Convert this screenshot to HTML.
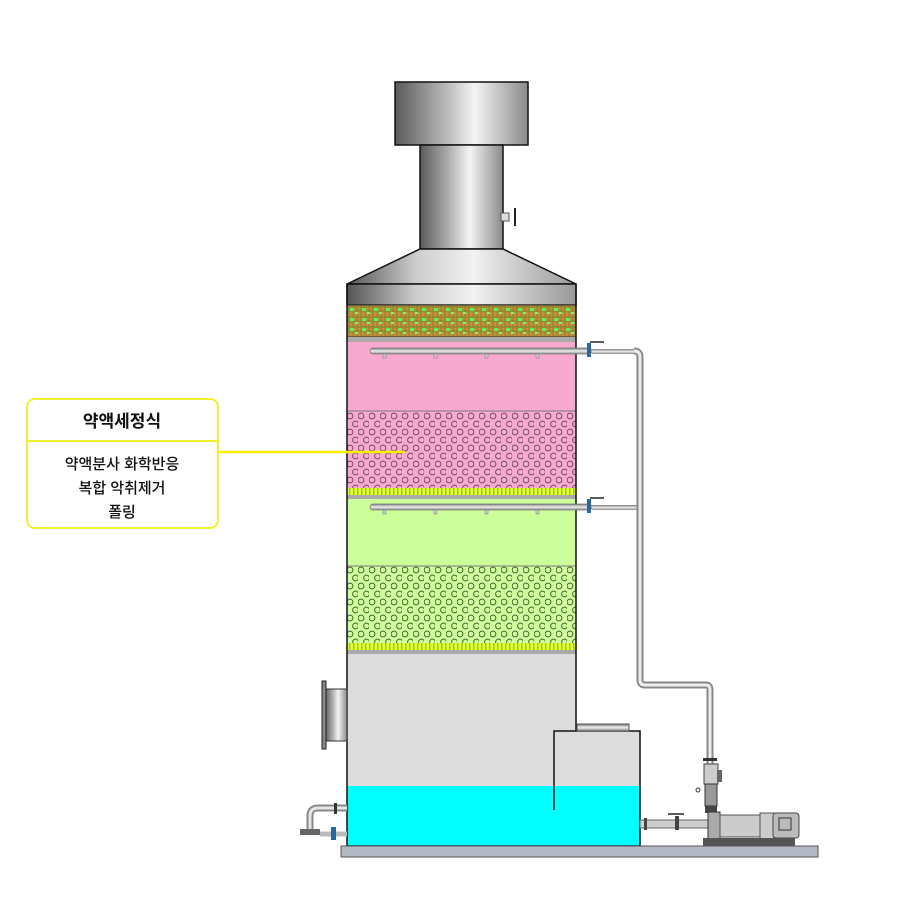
<!DOCTYPE html>
<html><head><meta charset="utf-8"><style>
html,body{margin:0;padding:0;background:#fff;}
svg{display:block}
text{font-family:"Liberation Sans","Noto Sans CJK KR","NanumGothic",sans-serif;}
</style></head><body>
<svg width="900" height="900" viewBox="0 0 900 900" xmlns="http://www.w3.org/2000/svg">
<defs>
<linearGradient id="met" x1="0" x2="1" y1="0" y2="0">
<stop offset="0" stop-color="#5a5a5a"/><stop offset="0.35" stop-color="#b0b0b0"/><stop offset="0.6" stop-color="#f4f4f4"/><stop offset="1" stop-color="#8a8a8a"/></linearGradient>
<linearGradient id="metv" x1="0" x2="0" y1="0" y2="1">
<stop offset="0" stop-color="#777"/><stop offset="0.5" stop-color="#eee"/><stop offset="1" stop-color="#888"/></linearGradient>
<linearGradient id="band" x1="0" x2="1"><stop offset="0" stop-color="#555"/><stop offset="0.3" stop-color="#ccc"/><stop offset="0.55" stop-color="#f2f2f2"/><stop offset="1" stop-color="#999"/></linearGradient>
<pattern id="circP" width="11" height="16" patternUnits="userSpaceOnUse" x="347" y="412">
<rect width="11" height="16" fill="#f8a9d0"/>
<circle cx="3" cy="4" r="2.9" fill="none" stroke="#6a4a5a" stroke-width="1"/>
<circle cx="8.5" cy="12" r="2.9" fill="none" stroke="#6a4a5a" stroke-width="1"/>
</pattern>
<pattern id="circG" width="11" height="16" patternUnits="userSpaceOnUse" x="347" y="566">
<rect width="11" height="16" fill="#ccff99"/>
<circle cx="3" cy="4" r="2.9" fill="none" stroke="#4a5a3a" stroke-width="1"/>
<circle cx="8.5" cy="12" r="2.9" fill="none" stroke="#4a5a3a" stroke-width="1"/>
</pattern>
<pattern id="mesh" width="12" height="10" patternUnits="userSpaceOnUse" x="347" y="305">
<rect width="12" height="10" fill="#c98a3a"/>
<path d="M0 2H12M0 6H12M2 0V10M6 0V10M10 0V10" stroke="#7a8a2a" stroke-width="1"/>
<rect x="3" y="3" width="4" height="3" fill="#5ef05e"/>
<rect x="8" y="7" width="3" height="2" fill="#7ef07e"/>
</pattern>
<pattern id="strip" width="4" height="7" patternUnits="userSpaceOnUse">
<rect width="4" height="7" fill="#e8ff30"/><rect x="1" width="1.5" height="7" fill="#9acc20"/>
</pattern>
</defs>

<rect x="395" y="82" width="133" height="63" fill="url(#met)" stroke="#111" stroke-width="1.5"/>
<rect x="420" y="145" width="83" height="104" fill="url(#met)" stroke="#111" stroke-width="1.5"/>
<rect x="501" y="213" width="8" height="8" fill="#ddd" stroke="#555"/>
<line x1="515" y1="208" x2="515" y2="226" stroke="#222" stroke-width="2"/>
<polygon points="420,249 503,249 576,284 347,284" fill="url(#band)" stroke="#111" stroke-width="1.5"/>
<rect x="347" y="284" width="229" height="21" fill="url(#band)" stroke="#111" stroke-width="1.5"/>
<rect x="347" y="305" width="229" height="32" fill="url(#mesh)" stroke="#333"/>
<rect x="347" y="337" width="229" height="5" fill="#aaa"/>
<rect x="347" y="342" width="229" height="69" fill="#f8a9d0"/>
<rect x="347" y="411" width="229" height="77" fill="url(#circP)"/>
<line x1="347" y1="411" x2="576" y2="411" stroke="#777"/>
<rect x="347" y="488" width="229" height="7" fill="url(#strip)"/>
<rect x="347" y="495" width="229" height="4" fill="#aaa"/>
<rect x="347" y="499" width="229" height="67" fill="#ccff99"/>
<rect x="347" y="566" width="229" height="77" fill="url(#circG)"/>
<line x1="347" y1="566" x2="576" y2="566" stroke="#777"/>
<rect x="347" y="643" width="229" height="7" fill="url(#strip)"/>
<rect x="347" y="650" width="229" height="4" fill="#aaa"/>
<rect x="347" y="654" width="229" height="132" fill="#dcdcdc"/>
<rect x="576" y="731" width="64" height="55" fill="#dcdcdc"/>
<rect x="347" y="786" width="293" height="60" fill="#00ffff"/>
<line x1="576" y1="284" x2="576" y2="731" stroke="#111" stroke-width="1.5"/>
<line x1="347" y1="284" x2="347" y2="846" stroke="#111" stroke-width="1.5"/>
<polyline points="554,810 554,731 640,731 640,846 347,846" fill="none" stroke="#111" stroke-width="1.5"/>
<rect x="577" y="724" width="52" height="7" fill="url(#metv)" stroke="#555"/>
<rect x="341" y="846" width="477" height="11" fill="#b4b8c4" stroke="#555"/>
<rect x="325" y="689" width="22" height="52" fill="url(#met)" stroke="#333"/>
<rect x="322" y="681" width="4" height="68" fill="#888" stroke="#222"/>
<path d="M347 808 H318 Q310 808 310 816 V833" fill="none" stroke="#888" stroke-width="7"/>
<path d="M347 808 H318 Q310 808 310 816 V833" fill="none" stroke="#e6e6e6" stroke-width="3"/>
<rect x="300" y="829" width="20" height="6" fill="#666"/>
<line x1="320" y1="834" x2="347" y2="834" stroke="#bbb" stroke-width="5"/>
<rect x="331" y="827" width="5" height="13" fill="#2a6a9a"/>
<rect x="334" y="803" width="3" height="11" fill="#333"/>
<g>
<rect x="370" y="348" width="222" height="6" rx="3" fill="url(#metv)" stroke="#777" stroke-width="0.8"/>
<rect x="592" y="349" width="44" height="5" fill="url(#metv)"/>
<rect x="587" y="343" width="4" height="14" fill="#2a6a9a"/>
<line x1="590" y1="342" x2="604" y2="342" stroke="#222" stroke-width="1.5"/>
<rect x="383" y="354" width="3" height="4" fill="#ccc" stroke="#777" stroke-width="0.5"/>
<rect x="434" y="354" width="3" height="4" fill="#ccc" stroke="#777" stroke-width="0.5"/>
<rect x="485" y="354" width="3" height="4" fill="#ccc" stroke="#777" stroke-width="0.5"/>
<rect x="536" y="354" width="3" height="4" fill="#ccc" stroke="#777" stroke-width="0.5"/>
</g>
<g>
<rect x="370" y="504" width="222" height="6" rx="3" fill="url(#metv)" stroke="#777" stroke-width="0.8"/>
<rect x="592" y="505" width="46" height="5" fill="url(#metv)"/>
<rect x="587" y="499" width="4" height="14" fill="#2a6a9a"/>
<line x1="590" y1="498" x2="604" y2="498" stroke="#222" stroke-width="1.5"/>
<rect x="383" y="510" width="3" height="4" fill="#ccc" stroke="#777" stroke-width="0.5"/>
<rect x="434" y="510" width="3" height="4" fill="#ccc" stroke="#777" stroke-width="0.5"/>
<rect x="485" y="510" width="3" height="4" fill="#ccc" stroke="#777" stroke-width="0.5"/>
<rect x="536" y="510" width="3" height="4" fill="#ccc" stroke="#777" stroke-width="0.5"/>
</g>
<path d="M634 351 Q640 351 640 357 V680 Q640 685 645 685 H706 Q710 685 710 690 V765" fill="none" stroke="#888" stroke-width="7"/>
<path d="M634 351 Q640 351 640 357 V680 Q640 685 645 685 H706 Q710 685 710 690 V765" fill="none" stroke="#eee" stroke-width="3"/>
<rect x="703" y="758" width="14" height="3" fill="#333"/>
<rect x="704" y="764" width="14" height="20" fill="#ccc" stroke="#444"/>
<rect x="717" y="770" width="5" height="12" fill="#666"/>
<rect x="705" y="784" width="12" height="22" fill="#999" stroke="#333"/>
<circle cx="698" cy="790" r="2" fill="none" stroke="#333"/>
<rect x="705" y="806" width="12" height="7" fill="#444"/>
<rect x="640" y="820" width="70" height="8" fill="#ccc" stroke="#666"/>
<rect x="644" y="818" width="3" height="12" fill="#444"/>
<rect x="675" y="816" width="4" height="14" fill="#444"/>
<line x1="668" y1="814" x2="684" y2="814" stroke="#222" stroke-width="1.5"/>
<rect x="708" y="812" width="12" height="30" fill="#aaa" stroke="#333"/>
<rect x="720" y="815" width="40" height="22" fill="#ccc" stroke="#555"/>
<rect x="760" y="813" width="14" height="26" fill="#ccc" stroke="#555"/>
<rect x="773" y="813" width="26" height="25" rx="3" fill="#bbb" stroke="#444"/>
<rect x="779" y="818" width="12" height="12" fill="none" stroke="#333"/>
<rect x="703" y="838" width="92" height="8" fill="#555"/>
<line x1="218" y1="452" x2="405" y2="452" stroke="#ffee00" stroke-width="2.5"/>
<rect x="27" y="399" width="191" height="129" rx="8" fill="#fff" stroke="#f2ee30" stroke-width="2"/>
<line x1="27" y1="441" x2="218" y2="441" stroke="#f2ee30" stroke-width="2"/>
<text x="122" y="427" text-anchor="middle" font-size="17" font-weight="bold" fill="#111">약액세정식</text>
<text x="122" y="469" text-anchor="middle" font-size="15" font-weight="500" fill="#111">약액분사 화학반응</text>
<text x="122" y="493" text-anchor="middle" font-size="15" font-weight="500" fill="#111">복합 악취제거</text>
<text x="122" y="517" text-anchor="middle" font-size="15" font-weight="500" fill="#111">폴링</text>
</svg>
</body></html>
